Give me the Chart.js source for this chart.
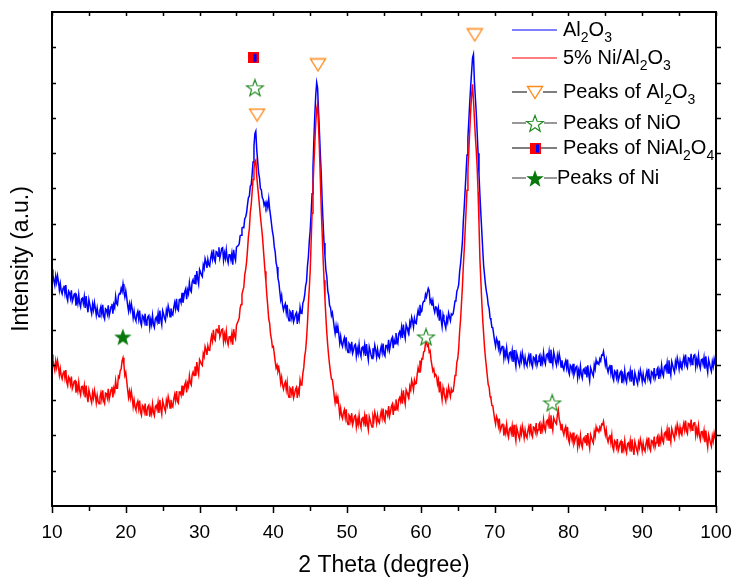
<!DOCTYPE html>
<html lang="en">
<head>
<meta charset="utf-8">
<title>XRD patterns</title>
<script src="https://cdn.jsdelivr.net/npm/chart.js@4"></script>
<style>
  html, body { margin: 0; padding: 0; background: #fff; }
  #wrap { width: 734px; height: 579px; }
</style>
</head>
<body>
<div id="wrap"><canvas id="xrd" width="734" height="579"></canvas></div>
<script>
// 2θ sampling: 10° → 100°, every 0.125° (one row = one degree)
const THETA_START = 10;
const THETA_STEP = 0.125;

// Al2O3 support (blue)
const BLUE = [
  670, 655, 639, 626, 652, 634, 653, 636,
  612, 630, 609, 601, 617, 625, 603, 626,
  592, 582, 609, 604, 589, 611, 579, 588,
  600, 602, 568, 589, 574, 599, 574, 564,
  587, 589, 574, 593, 561, 595, 567, 549,
  585, 572, 557, 545, 572, 556, 577, 560,
  541, 561, 543, 536, 555, 565, 545, 570,
  538, 530, 559, 556, 544, 569, 539, 551,
  565, 573, 545, 571, 562, 594, 574, 570,
  595, 602, 601, 617, 608, 629, 607, 592,
  610, 591, 569, 552, 572, 555, 574, 557,
  533, 552, 532, 525, 542, 551, 530, 554,
  521, 512, 540, 536, 522, 545, 513, 524,
  537, 540, 507, 528, 514, 540, 515, 506,
  530, 535, 523, 545, 516, 554, 529, 514,
  553, 544, 532, 525, 555, 543, 567, 555,
  536, 560, 544, 541, 562, 576, 559, 587,
  558, 554, 585, 586, 576, 604, 576, 591,
  608, 616, 586, 612, 602, 633, 612, 607,
  635, 642, 631, 655, 628, 666, 643, 629,
  670, 663, 655, 650, 683, 673, 701, 691,
  675, 699, 684, 680, 702, 716, 700, 727,
  699, 692, 721, 719, 708, 733, 703, 715,
  730, 732, 697, 717, 702, 726, 700, 689,
  712, 713, 698, 716, 684, 726, 706, 696,
  733, 736, 738, 743, 766, 767, 788, 790,
  789, 814, 819, 831, 854, 874, 878, 906,
  910, 940, 975, 1020, 1055, 1062, 1010, 978,
  945, 930, 899, 896, 874, 869, 852, 860,
  848, 860, 846, 870, 842, 822, 800, 778,
  764, 735, 720, 690, 677, 646, 634, 608,
  584, 597, 569, 555, 566, 573, 549, 570,
  535, 525, 552, 547, 532, 555, 522, 531,
  543, 548, 516, 540, 528, 563, 547, 546,
  575, 582, 598, 624, 636, 680, 706, 750,
  782, 830, 885, 960, 1040, 1110, 1165, 1200,
  1185, 1120, 1060, 995, 938, 860, 800, 745,
  708, 668, 650, 610, 596, 568, 562, 540,
  548, 528, 507, 489, 510, 490, 508, 488,
  462, 481, 460, 452, 468, 477, 455, 478,
  444, 435, 461, 457, 443, 465, 433, 442,
  455, 458, 425, 446, 432, 458, 433, 424,
  448, 451, 436, 456, 425, 459, 432, 414,
  451, 440, 427, 418, 447, 433, 456, 442,
  422, 444, 426, 421, 441, 453, 435, 460,
  430, 425, 455, 455, 444, 471, 442, 456,
  472, 478, 447, 471, 460, 490, 468, 461,
  488, 494, 482, 505, 476, 514, 489, 475,
  514, 506, 495, 489, 521, 510, 535, 524,
  507, 532, 519, 517, 540, 555, 541, 570,
  549, 552, 574, 580, 580, 600, 592, 605,
  617, 610, 577, 584, 568, 582, 560, 549,
  564, 563, 544, 560, 525, 557, 527, 508,
  542, 529, 515, 504, 532, 521, 547, 536,
  525, 544, 541, 545, 562, 581, 583, 609,
  616, 627, 664, 686, 716, 747, 806, 848,
  896, 945, 995, 1045, 1094, 1145, 1190, 1230,
  1270, 1280, 1205, 1160, 1115, 1060, 1000, 940,
  881, 830, 780, 730, 683, 655, 628, 608,
  594, 570, 560, 533, 526, 506, 505, 485,
  467, 453, 475, 467, 448, 469, 434, 442,
  452, 454, 419, 439, 424, 448, 422, 411,
  434, 436, 421, 440, 408, 442, 414, 396,
  432, 421, 407, 398, 427, 412, 435, 420,
  400, 421, 403, 397, 416, 427, 408, 433,
  402, 394, 422, 419, 406, 430, 399, 410,
  424, 429, 396, 419, 406, 434, 411, 402,
  428, 431, 418, 438, 407, 443, 416, 400,
  437, 424, 409, 399, 426, 410, 431, 416,
  394, 413, 394, 386, 403, 412, 392, 415,
  382, 373, 399, 395, 381, 403, 371, 380,
  393, 396, 363, 384, 370, 396, 372, 362,
  386, 389, 375, 395, 364, 399, 372, 355,
  392, 384, 374, 368, 400, 388, 414, 403,
  406, 402, 417, 411, 428, 427, 438, 420,
  400, 414, 389, 379, 393, 400, 377, 399,
  365, 356, 383, 379, 364, 387, 355, 365,
  378, 382, 348, 370, 357, 384, 359, 350,
  375, 378, 363, 383, 352, 386, 359, 341,
  378, 367, 355, 346, 375, 362, 385, 372,
  352, 374, 356, 351, 370, 382, 364, 389,
  359, 352, 381, 378, 366, 391, 361, 372,
  387, 392, 360, 383, 371, 399, 376, 368,
  394, 398, 385, 406, 377, 413, 387, 371,
  409, 399, 387, 379, 409, 396, 420, 407,
  388, 410, 393, 388, 408, 421, 403, 429,
  399, 392, 420, 418, 406, 431, 401, 412,
  427, 429, 395, 415, 401, 426, 401, 390,
  414, 416, 402, 421, 389, 424, 396, 379,
  415, 404, 390, 381, 409, 395, 417, 403,
  392
];

// 5% Ni/Al2O3 catalyst (red)
const RED = [
  429, 414, 398, 385, 411, 393, 412, 395,
  371, 389, 369, 360, 376, 384, 363, 385,
  351, 341, 366, 361, 345, 367, 333, 342,
  353, 355, 321, 341, 326, 351, 326, 315,
  338, 339, 323, 341, 308, 341, 313, 294,
  329, 317, 303, 293, 321, 306, 328, 313,
  292, 313, 296, 290, 309, 321, 302, 328,
  297, 290, 320, 318, 306, 332, 302, 315,
  330, 338, 308, 334, 324, 355, 334, 334,
  368, 364, 384, 388, 411, 420, 401, 370,
  378, 355, 330, 308, 325, 306, 325, 306,
  281, 300, 280, 272, 289, 297, 276, 299,
  266, 257, 285, 281, 267, 290, 258, 269,
  282, 286, 253, 275, 262, 289, 265, 256,
  281, 285, 273, 294, 264, 301, 275, 260,
  298, 288, 276, 268, 299, 286, 310, 297,
  278, 301, 285, 281, 303, 316, 299, 326,
  297, 292, 323, 323, 314, 341, 313, 327,
  344, 352, 322, 348, 339, 369, 349, 343,
  372, 380, 370, 395, 369, 408, 386, 373,
  415, 409, 402, 398, 432, 423, 452, 443,
  428, 454, 442, 441, 466, 482, 468, 499,
  473, 469, 500, 501, 491, 513, 479, 488,
  500, 502, 466, 486, 470, 495, 468, 457,
  479, 482, 468, 488, 457, 501, 482, 474,
  512, 519, 525, 533, 561, 571, 600, 611,
  620, 655, 670, 692, 726, 764, 786, 831,
  853, 890, 925, 955, 975, 980, 935, 905,
  880, 850, 820, 795, 770, 735, 700, 665,
  634, 596, 565, 530, 518, 486, 472, 450,
  452, 432, 410, 391, 399, 382, 391, 374,
  349, 365, 342, 331, 345, 352, 330, 351,
  317, 308, 335, 331, 317, 339, 307, 317,
  330, 336, 306, 330, 319, 357, 343, 345,
  375, 392, 424, 441, 474, 517, 574, 618,
  669, 750, 830, 905, 970, 1030, 1085, 1125,
  1140, 1080, 1010, 925, 839, 770, 700, 640,
  585, 535, 490, 455, 425, 400, 378, 360,
  358, 336, 312, 293, 311, 290, 306, 285,
  258, 277, 256, 248, 264, 273, 251, 274,
  240, 231, 258, 254, 240, 263, 231, 241,
  254, 257, 224, 245, 231, 257, 233, 223,
  247, 250, 236, 256, 225, 260, 233, 216,
  253, 243, 232, 224, 254, 242, 266, 254,
  235, 257, 240, 235, 255, 268, 250, 276,
  246, 240, 270, 268, 257, 283, 254, 266,
  282, 289, 258, 283, 272, 302, 280, 274,
  301, 307, 296, 318, 290, 328, 304, 289,
  329, 322, 312, 307, 339, 329, 356, 345,
  329, 357, 346, 347, 373, 392, 380, 412,
  394, 418, 417, 437, 439, 461, 466, 453,
  457, 436, 440, 414, 414, 382, 388, 368,
  373, 368, 346, 358, 322, 353, 322, 301,
  335, 322, 308, 297, 325, 312, 337, 324,
  310, 331, 323, 325, 345, 370, 374, 408,
  418, 447, 494, 527, 574, 620, 680, 726,
  782, 838, 895, 952, 1009, 1065, 1120, 1165,
  1195, 1150, 1100, 1050, 1010, 960, 890, 800,
  700, 640, 580, 530, 490, 450, 420, 395,
  369, 344, 337, 311, 304, 285, 284, 264,
  246, 232, 254, 246, 227, 248, 213, 221,
  231, 234, 199, 220, 206, 231, 206, 195,
  219, 222, 207, 227, 196, 230, 203, 185,
  222, 211, 198, 189, 218, 204, 227, 213,
  193, 215, 198, 193, 213, 225, 207, 233,
  203, 196, 224, 222, 210, 235, 205, 216,
  231, 236, 204, 227, 215, 244, 221, 213,
  239, 243, 230, 251, 221, 257, 231, 215,
  250, 243, 236, 232, 259, 272, 246, 235,
  216, 233, 212, 202, 217, 225, 202, 224,
  189, 179, 206, 201, 186, 208, 176, 185,
  197, 200, 167, 188, 174, 200, 176, 166,
  190, 194, 180, 201, 171, 207, 180, 164,
  202, 194, 184, 178, 210, 198, 224, 213,
  216, 210, 223, 216, 232, 230, 240, 220,
  202, 216, 191, 181, 195, 202, 180, 201,
  167, 158, 185, 181, 167, 190, 157, 167,
  180, 184, 150, 172, 159, 185, 161, 151,
  176, 179, 165, 185, 154, 189, 162, 145,
  182, 171, 159, 150, 179, 166, 189, 176,
  156, 178, 160, 155, 175, 187, 169, 194,
  164, 157, 186, 184, 172, 197, 167, 179,
  194, 200, 168, 192, 180, 209, 186, 179,
  205, 209, 196, 217, 187, 223, 197, 181,
  219, 209, 198, 190, 220, 208, 232, 220,
  201, 223, 206, 201, 221, 234, 216, 242,
  212, 205, 234, 232, 220, 245, 215, 224,
  235, 236, 200, 219, 203, 227, 200, 188,
  210, 211, 196, 214, 181, 214, 186, 167,
  202, 191, 178, 169, 198, 184, 207, 193,
  185
];

// reflection markers (2θ, height)
const AL2O3_PEAK_X = [37.8, 46.05, 67.3];
const AL2O3_PEAK_Y = [1108, 1250, 1335];
const NIO_PEAK_X = [37.5, 60.7, 77.8];
const NIO_PEAK_Y = [1185, 479, 292];
const NIAL2O4_PEAK_X = [37.25];
const NIAL2O4_PEAK_Y = [1270];
const NI_PEAK_X = [19.6];
const NI_PEAK_Y = [479];

const X_TICKS = [10, 20, 30, 40, 50, 60, 70, 80, 90, 100];

const FONT = 'Arial, "Liberation Sans", sans-serif';
const C_BLUE = '#0000ff', C_RED = '#ff0000';
const C_ORANGE = '#ff8a1c', C_GREEN = '#1f8a1f', C_DKGREEN = '#08780a';

// ---------- marker glyphs ----------
function glyph(w, h, draw) {
  const c = document.createElement('canvas');
  c.width = w; c.height = h;
  draw(c.getContext('2d'), w, h);
  return c;
}
function starPath(g, cx, cy, ro, ri) {
  g.beginPath();
  for (let k = 0; k < 10; k++) {
    const r = k % 2 ? ri : ro;
    const a = -Math.PI / 2 + k * Math.PI / 5;
    g.lineTo(cx + r * Math.cos(a), cy + r * Math.sin(a));
  }
  g.closePath();
}
const triDown = glyph(18, 15, (g) => {
  g.beginPath(); g.moveTo(1.5, 1.5); g.lineTo(16.5, 1.5); g.lineTo(9, 13.5); g.closePath();
  g.fillStyle = '#fff'; g.fill();
  g.strokeStyle = C_ORANGE; g.lineWidth = 1.4; g.stroke();
});
const starOpen = glyph(20, 19, (g) => {
  starPath(g, 10, 10.2, 8.8, 3.6);
  g.fillStyle = '#fff'; g.fill();
  g.strokeStyle = C_GREEN; g.lineWidth = 1.2; g.stroke();
});
const starFull = glyph(20, 19, (g) => {
  starPath(g, 10, 10.2, 9.2, 3.8);
  g.fillStyle = C_DKGREEN; g.fill();
});
const halfSquare = glyph(11, 11, (g) => {
  g.fillStyle = C_RED; g.fillRect(0, 0, 11, 11);
  g.fillStyle = C_BLUE; g.fillRect(6, 1.5, 3, 8);
});

const series = (vals) => vals.map((v, i) => ({ x: THETA_START + i * THETA_STEP, y: v }));
const pairs = (xs, ys) => xs.map((x, i) => ({ x, y: ys[i] }));
const markerSet = (xs, ys, img) => ({
  type: 'scatter', data: pairs(xs, ys), pointStyle: img, pointRadius: 8,
  showLine: false, order: 0,
});

// ---------- frame, ticks and legend ----------
const framePlugin = {
  id: 'frame',
  afterDraw(chart) {
    const { ctx, chartArea: a, scales: { x, y } } = chart;
    ctx.save();
    ctx.strokeStyle = '#000';
    ctx.lineWidth = 2;
    ctx.strokeRect(a.left, a.top, a.right - a.left, a.bottom - a.top);
    ctx.lineWidth = 1.5;
    ctx.beginPath();
    for (let t = 10; t <= 100; t += 5) {
      const px = Math.round(x.getPixelForValue(t)) + 0.5;
      const len = t % 10 === 0 ? 7 : 5;
      ctx.moveTo(px, a.bottom); ctx.lineTo(px, a.bottom + len);
      ctx.moveTo(px, a.top); ctx.lineTo(px, a.top + 4);
    }
    for (let v = 100; v < 1400; v += 100) {
      const py = Math.round(y.getPixelForValue(v)) + 0.5;
      ctx.moveTo(a.left, py); ctx.lineTo(a.left + 4, py);
      ctx.moveTo(a.right, py); ctx.lineTo(a.right + 5, py);
    }
    ctx.stroke();

    // legend
    const lx0 = 512, lx1 = 557, mx = 535;
    const rows = [
      { y: 30, line: C_BLUE, w: 1.2, text: [['Al'], ['2', 1], ['O'], ['3', 1]] },
      { y: 58, line: C_RED, w: 1.2, text: [['5% Ni/Al'], ['2', 1], ['O'], ['3', 1]] },
      { y: 92, line: '#000', w: 1.2, img: triDown, text: [['Peaks of Al'], ['2', 1], ['O'], ['3', 1]] },
      { y: 123, line: '#777', w: 1.6, img: starOpen, text: [['Peaks of NiO']] },
      { y: 148, line: '#000', w: 1.2, img: halfSquare, text: [['Peaks of NiAl'], ['2', 1], ['O'], ['4', 1]] },
      { y: 178, line: '#777', w: 1.6, img: starFull, text: [['Peaks of Ni']], tx: 557 },
    ];
    ctx.textBaseline = 'middle';
    ctx.fillStyle = '#000';
    rows.forEach((r) => {
      ctx.strokeStyle = r.line; ctx.lineWidth = r.w;
      ctx.beginPath();
      if (r.img) {
        const hw = r.img.width / 2;
        ctx.moveTo(lx0, r.y); ctx.lineTo(mx - hw + 1, r.y);
        ctx.moveTo(mx + hw - 1, r.y); ctx.lineTo(lx1, r.y);
      } else {
        ctx.moveTo(lx0, r.y); ctx.lineTo(lx1, r.y);
      }
      ctx.stroke();
      if (r.img) ctx.drawImage(r.img, Math.round(mx - r.img.width / 2), Math.round(r.y - r.img.height / 2));
      let tx = r.tx || 563;
      r.text.forEach(([s, sub]) => {
        ctx.font = (sub ? '14px ' : '20px ') + FONT;
        ctx.fillText(s, tx, r.y + (sub ? 8 : 0));
        tx += ctx.measureText(s).width;
      });
    });
    ctx.restore();
  },
};

new Chart(document.getElementById('xrd'), {
  type: 'line',
  data: {
    datasets: [
      { label: 'Al2O3', data: series(BLUE), borderColor: C_BLUE, borderWidth: 1.5, pointRadius: 0, order: 2 },
      { label: '5% Ni/Al2O3', data: series(RED), borderColor: C_RED, borderWidth: 1.5, pointRadius: 0, order: 1 },
      markerSet(AL2O3_PEAK_X, AL2O3_PEAK_Y, triDown),
      markerSet(NIO_PEAK_X, NIO_PEAK_Y, starOpen),
      markerSet(NIAL2O4_PEAK_X, NIAL2O4_PEAK_Y, halfSquare),
      markerSet(NI_PEAK_X, NI_PEAK_Y, starFull),
    ],
  },
  options: {
    responsive: false,
    animation: false,
    devicePixelRatio: 1,
    layout: { padding: { left: 0, right: 18, top: 12, bottom: 0 } },
    plugins: { legend: { display: false }, tooltip: { enabled: false } },
    scales: {
      x: {
        type: 'linear', min: 10, max: 100,
        afterBuildTicks: (s) => { s.ticks = X_TICKS.map((v) => ({ value: v })); },
        afterFit: (s) => { s.height = 73; s.paddingRight = 0; s.paddingLeft = 0; },
        grid: { display: false },
        border: { display: false },
        ticks: { color: '#000', font: { family: FONT, size: 19 }, padding: 7, maxRotation: 0 },
        title: { display: true, text: '2 Theta (degree)', color: '#000', font: { family: FONT, size: 23 }, padding: { top: 0, bottom: 0 } },
      },
      y: {
        min: 0, max: 1400,
        afterFit: (s) => { s.width = 52; },
        grid: { display: false },
        border: { display: false },
        ticks: { display: false },
        title: { display: true, text: 'Intensity (a.u.)', color: '#000', font: { family: FONT, size: 23 }, padding: { top: 8, bottom: 0 } },
      },
    },
  },
  plugins: [framePlugin],
});
</script>
</body>
</html>
